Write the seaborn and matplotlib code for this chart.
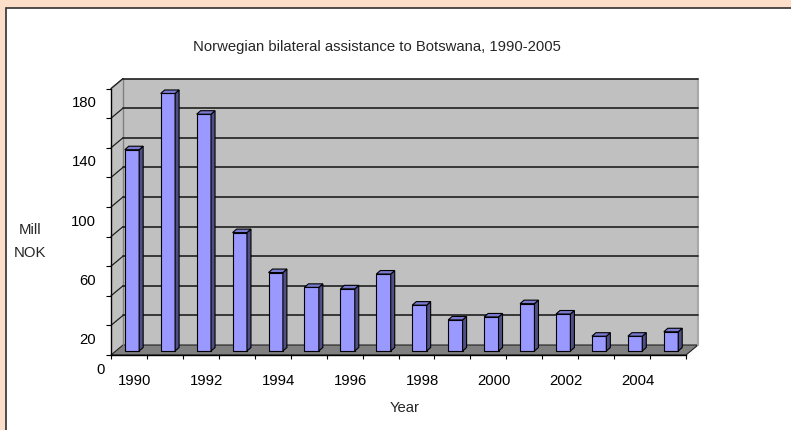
import numpy as np
import matplotlib
matplotlib.use("Agg")
import matplotlib.pyplot as plt
import matplotlib.transforms as mtransforms
from matplotlib.patches import Polygon, Rectangle
from matplotlib.lines import Line2D
from matplotlib.ticker import NullFormatter
import seaborn as sns

# data (mill NOK)
years = [str(y) for y in range(1990, 2006)]
aid_mill_nok = [136, 174, 160, 80, 53, 43, 42, 52, 31, 21, 23, 32, 25, 10, 10, 13]
y_ticks = list(range(0, 181, 20))
y_tick_labels = ["0", "20", "", "60", "", "100", "", "140", "", "180"]
x_label_pos = list(range(0, 16, 2))
x_label_years = years[::2]

title = "Norwegian bilateral assistance to Botswana, 1990-2005"

sns.set_theme(style="white")
plt.rcParams["font.family"] = ["Liberation Sans", "DejaVu Sans"]

W, H = 791, 430
FS = 10.7
ident = mtransforms.IdentityTransform()

fig = plt.figure(figsize=(W / 100, H / 100), dpi=100)
fig.patch.set_facecolor("#FCDEC9")
fig.add_artist(Rectangle((5.5, -2), W, H - 7.5 + 2, transform=ident,
                         facecolor="white", edgecolor="#303030", lw=1.2, zorder=-5))

# axes = front plane of the excel-style 3d box
ax = fig.add_axes([111 / W, 75 / H, 575 / W, 266.4 / H])
ax.patch.set_visible(False)

sns.barplot(x=years, y=aid_mill_nok, color="#9999FF", saturation=1, width=0.4,
            edgecolor="black", linewidth=0.8, ax=ax)
ax.set_xlim(-0.5, 15.5)
ax.set_ylim(0, 180)
bars = list(ax.patches)


def to_px(x, y, dx=0.0, dy=0.0):
    px, py = ax.transData.transform((x, y))
    return (px + dx, py + dy)


def add_poly(pts, fc, ec="none", lw=0.0, z=0.5):
    ax.add_patch(Polygon(pts, closed=True, transform=ident, facecolor=fc,
                         edgecolor=ec, lw=lw, clip_on=False, zorder=z))


def add_line(p0, p1, color, lw, z=0.6):
    ax.add_line(Line2D([p0[0], p1[0]], [p0[1], p1[1]], transform=ident,
                       color=color, lw=lw, clip_on=False, zorder=z))


# walls and floor
DX, DY = 12, 10
x0, x1 = -0.5, 15.5
add_poly([to_px(x0, 0, DX, DY), to_px(x1, 0, DX, DY), to_px(x1, 180, DX, DY), to_px(x0, 180, DX, DY)], "#C0C0C0")
add_poly([to_px(x0, 0), to_px(x0, 0, DX, DY), to_px(x0, 180, DX, DY), to_px(x0, 180)], "#C0C0C0")
add_poly([to_px(x0, 0), to_px(x1, 0), to_px(x1, 0, DX, DY), to_px(x0, 0, DX, DY)], "#808080",
         ec="#202020", lw=0.8)
add_line(to_px(x0, 0, DX, DY), to_px(x0, 180, DX, DY), "#808080", 1.0)
add_line(to_px(x1, 0, DX, DY), to_px(x1, 180, DX, DY), "#A8A8A8", 1.5)
add_line(to_px(x0, 180), to_px(x0, 180, DX, DY), "#808080", 1.0)
for v in y_ticks[1:]:
    add_line(to_px(x0, v, DX, DY), to_px(x1, v, DX, DY), "#202020", 1.2)
    add_line(to_px(x0, v), to_px(x0, v, DX, DY), "#202020", 0.9)

# bars sit a little behind the front plane, with side and top faces
bx, by, bd, bh = 3, 4, 4, 3.5
bar_shift = mtransforms.offset_copy(ax.transData, fig=fig, x=bx, y=by, units="dots")
for bar in bars:
    bar.set_transform(bar_shift)
    bar.set_zorder(3)
    bl, bw, h = bar.get_x(), bar.get_width(), bar.get_height()
    br = bl + bw
    add_poly([to_px(br, 0, bx, by), to_px(br, h, bx, by),
              to_px(br, h, bx + bd, by + bh), to_px(br, 0, bx + bd, by + bh)],
             "#4F4F85", ec="black", lw=0.8, z=3)
    add_poly([to_px(bl, h, bx, by), to_px(br, h, bx, by),
              to_px(br, h, bx + bd, by + bh), to_px(bl, h, bx + bd, by + bh)],
             "#7A7AD0", ec="black", lw=0.8, z=3)

# axes lines and ticks
for side in ["top", "right"]:
    ax.spines[side].set_visible(False)
for side in ["left", "bottom"]:
    ax.spines[side].set_color("black")
    ax.spines[side].set_linewidth(1.0)
    ax.spines[side].set_zorder(4)

ax.set_yticks(y_ticks, y_tick_labels)
ax.set_xticks(np.arange(-0.5, 16, 1))
ax.xaxis.set_major_formatter(NullFormatter())
ax.set_xticks(x_label_pos, x_label_years, minor=True)

ax.tick_params(axis="y", which="major", left=True, direction="out", length=3.6,
               width=0.8, color="black", pad=7, labelsize=FS, labelcolor="black")
ax.tick_params(axis="x", which="major", bottom=True, direction="out", length=2.9,
               width=0.8, color="black")
ax.tick_params(axis="x", which="minor", bottom=True, length=0, pad=14,
               labelsize=FS, labelcolor="black")

down = mtransforms.ScaledTranslation(0, -13 / 100, fig.dpi_scale_trans)
for lbl in ax.get_yticklabels():
    lbl.set_transform(lbl.get_transform() + down)
zero_lbl = ax.get_yticklabels()[0]
zero_lbl.set_transform(zero_lbl.get_transform() + mtransforms.ScaledTranslation(8 / 100, 0, fig.dpi_scale_trans))
right = mtransforms.ScaledTranslation(6 / 100, 0, fig.dpi_scale_trans)
for lbl in ax.get_xticklabels(minor=True):
    lbl.set_transform(lbl.get_transform() + right)

ax.set_ylabel("Mill\nNOK", rotation=0, fontsize=FS, linespacing=1.75, ha="center", va="center")
ax.yaxis.set_label_coords(-0.1409, 0.426)
ax.set_xlabel("Year", fontsize=FS)
ax.xaxis.set_label_coords(0.5104, -0.199)
ax.xaxis.label.set_va("center")

fig.text(377 / W, 1 - 47 / H, title, ha="center", va="center", fontsize=FS)

fig.savefig("out.png", dpi=100, facecolor=fig.get_facecolor())
